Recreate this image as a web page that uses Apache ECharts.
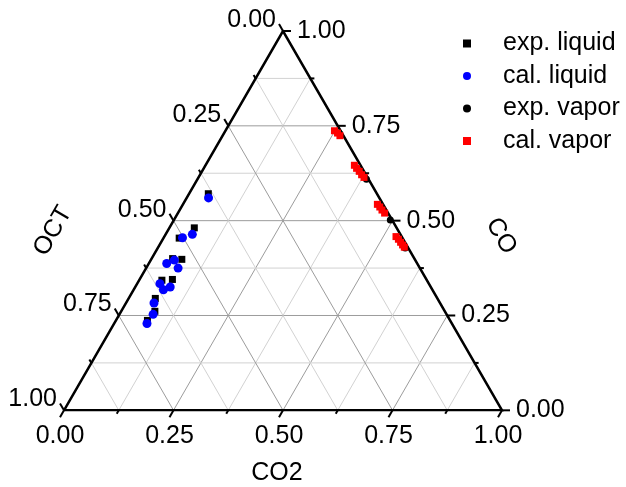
<!DOCTYPE html>
<html><head><meta charset="utf-8">
<script src="https://cdn.jsdelivr.net/npm/echarts@6/dist/echarts.min.js"></script>
<style>html,body{margin:0;padding:0;background:#fff}#c{width:626px;height:487px}</style>
</head><body><div id="c"></div>
<script>
// Tick values and labels (shared by the three ternary axes)
const majorTicks = [0, 0.25, 0.5, 0.75, 1];
const tickLabels = ['0.00', '0.25', '0.50', '0.75', '1.00'];
const minorTicks = [0.125, 0.375, 0.625, 0.875];
const axisTitles = ['CO2', 'CO', 'OCT'];
const seriesNames = ['exp. liquid', 'cal. liquid', 'exp. vapor', 'cal. vapor'];

// Data points as [CO2, CO, OCT]
const expLiquid = [
  [0.044, 0.571, 0.385], [0.057, 0.481, 0.462], [0.036, 0.454, 0.510],
  [0.070, 0.398, 0.532], [0.048, 0.400, 0.552], [0.052, 0.343, 0.605],
  [0.075, 0.345, 0.580], [0.061, 0.295, 0.644], [0.077, 0.261, 0.662],
  [0.072, 0.237, 0.691]
];
const calLiquid = [
  [0.050, 0.560, 0.390], [0.061, 0.464, 0.475], [0.043, 0.455, 0.502],
  [0.041, 0.387, 0.572], [0.054, 0.396, 0.550], [0.073, 0.375, 0.552],
  [0.052, 0.334, 0.614], [0.068, 0.318, 0.614], [0.080, 0.325, 0.595],
  [0.064, 0.283, 0.653], [0.077, 0.253, 0.670], [0.075, 0.229, 0.696]
];
const expVapor = [
  [0.264, 0.730, 0.006], [0.386, 0.609, 0.005], [0.494, 0.502, 0.004],
  [0.565, 0.428, 0.007]
];
const calVapor = [
  [0.249, 0.737, 0.014], [0.259, 0.731, 0.010], [0.268, 0.724, 0.008],
  [0.340, 0.646, 0.014], [0.349, 0.638, 0.013], [0.359, 0.630, 0.011],
  [0.369, 0.621, 0.010], [0.378, 0.614, 0.008],
  [0.444, 0.543, 0.013], [0.453, 0.536, 0.011], [0.462, 0.528, 0.010],
  [0.472, 0.520, 0.008],
  [0.529, 0.458, 0.013], [0.538, 0.451, 0.011], [0.547, 0.443, 0.010],
  [0.555, 0.436, 0.009], [0.562, 0.430, 0.008]
];

const H = Math.sqrt(3) / 2;
function toXY(co2, co) { return [co2 + co / 2, co * H]; }
function ptData(arr) { return arr.map(p => toXY(p[0], p[1])); }

const FONT = '25px "Liberation Sans", Arial, sans-serif';

// grid line items: [family, t, major]
const gridData = [];
[0, 1, 2].forEach(f => {
  minorTicks.forEach(t => gridData.push([f, t, 0]));
  majorTicks.slice(1, 4).forEach(t => gridData.push([f, t, 1]));
});
// tick items: [axis, t, major]
const tickData = [];
[0, 1, 2].forEach(a => {
  majorTicks.forEach(t => tickData.push([a, t, 1]));
  minorTicks.forEach(t => tickData.push([a, t, 0]));
});

function gridItem(params, api) {
  const f = api.value(0), t = api.value(1), major = api.value(2);
  let a, b;
  if (f === 0) { a = toXY(t, 0); b = toXY(t, 1 - t); }
  else if (f === 1) { a = toXY(0, t); b = toXY(1 - t, t); }
  else { a = toXY(1 - t, 0); b = toXY(0, 1 - t); }
  const p1 = api.coord(a), p2 = api.coord(b);
  return {
    type: 'line',
    shape: { x1: p1[0], y1: p1[1], x2: p2[0], y2: p2[1] },
    style: { stroke: major ? '#9c9c9c' : '#d2d2d2', lineWidth: 1 }
  };
}

function tickItem(params, api) {
  const ax = api.value(0), t = api.value(1), major = api.value(2);
  let xy, dir;
  if (ax === 0) { xy = toXY(t, 0); dir = [-0.5, H]; }
  else if (ax === 1) { xy = toXY(1 - t, t); dir = [1, 0]; }
  else { xy = toXY(0, 1 - t); dir = [-0.5, -H]; }
  const p = api.coord(xy);
  const len = major ? 8 : 4;
  const children = [{
    type: 'line',
    shape: { x1: p[0], y1: p[1], x2: p[0] + dir[0] * len, y2: p[1] + dir[1] * len },
    style: { stroke: '#000', lineWidth: 2 }
  }];
  if (major) {
    const txt = tickLabels[majorTicks.indexOf(t)];
    let x, y, align, va;
    if (ax === 0) { x = p[0] - 4; y = p[1] + 26; align = 'center'; va = 'middle'; }
    else if (ax === 1) { x = p[0] + 14; y = p[1]; align = 'left'; va = 'middle'; }
    else { x = p[0] - 7; y = p[1] - 11; align = 'right'; va = 'middle'; }
    children.push({ type: 'text', style: { text: txt, x: x, y: y, align: align, verticalAlign: va, font: FONT, fill: '#000' } });
  }
  return { type: 'group', children: children };
}

const chart = echarts.init(document.getElementById('c'), null, { renderer: 'canvas' });
chart.setOption({
  animation: false,
  backgroundColor: '#fff',
  grid: { left: 64, top: 31, width: 438, height: 438 * H },
  xAxis: { type: 'value', min: 0, max: 1, show: false },
  yAxis: { type: 'value', min: 0, max: H, show: false },
  legend: {
    data: seriesNames,
    orient: 'vertical',
    left: 458, top: 26,
    itemWidth: 8, itemHeight: 8, itemGap: 7.5,
    textStyle: { fontFamily: '"Liberation Sans", Arial, sans-serif', fontSize: 25, color: '#000', lineHeight: 24, padding: [0, 0, 0, 27] }
  },
  graphic: [
    { type: 'text', x: 277, y: 473, style: { text: axisTitles[0], font: FONT, align: 'center', verticalAlign: 'middle', fill: '#000' } },
    { type: 'text', x: 501, y: 236, rotation: -Math.PI / 3, style: { text: axisTitles[1], font: FONT, align: 'center', verticalAlign: 'middle', fill: '#000' } },
    { type: 'text', x: 53, y: 231, rotation: Math.PI / 3, style: { text: axisTitles[2], font: FONT, align: 'center', verticalAlign: 'middle', fill: '#000' } }
  ],
  series: [
    { type: 'custom', name: 'grid', renderItem: gridItem, data: gridData, silent: true, z: 1, legendHoverLink: false },
    {
      type: 'line', name: 'frame', data: [toXY(0, 0), toXY(1, 0), toXY(0, 1), toXY(0, 0)],
      symbol: 'none', lineStyle: { color: '#000', width: 2.5, join: 'miter' }, z: 3, silent: true
    },
    { type: 'custom', name: 'ticks', renderItem: tickItem, data: tickData, silent: true, z: 3 },
    { type: 'scatter', name: seriesNames[0], data: ptData(expLiquid), symbol: 'rect', symbolSize: 7, itemStyle: { color: '#000', opacity: 1 }, z: 4 },
    { type: 'scatter', name: seriesNames[1], data: ptData(calLiquid), symbol: 'circle', symbolSize: 9, itemStyle: { color: '#0000ff', opacity: 1 }, z: 5 },
    { type: 'scatter', name: seriesNames[2], data: ptData(expVapor), symbol: 'circle', symbolSize: 7, itemStyle: { color: '#000', opacity: 1 }, z: 6 },
    { type: 'scatter', name: seriesNames[3], data: ptData(calVapor), symbol: 'rect', symbolSize: 7, itemStyle: { color: '#ff0000', opacity: 1 }, z: 7 }
  ]
});
</script>
</body></html>
